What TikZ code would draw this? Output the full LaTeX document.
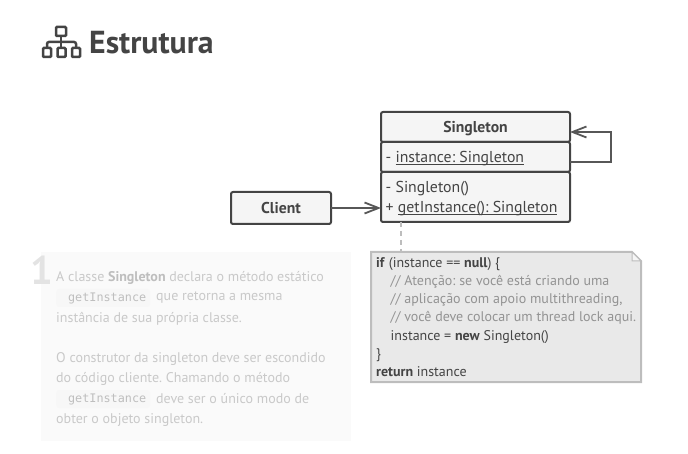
\documentclass[tikz,border=0pt]{standalone}
\usepackage{fontspec}
\setmainfont{PT Sans}
\setmonofont{DejaVu Sans Mono}
\usetikzlibrary{arrows.meta}
\frenchspacing
\newcommand\ulx[1]{\setbox0=\hbox{#1}\rlap{\rule[-2.4pt]{\wd0}{0.9pt}}\box0}
\definecolor{ink}{HTML}{444444}
\definecolor{boxfill}{HTML}{F5F5F5}
\definecolor{notefill}{HTML}{E9E9E9}
\definecolor{noteline}{HTML}{BDBDBD}
\definecolor{fade}{HTML}{C9C9C9}
\definecolor{fadedark}{HTML}{BEBEBE}
\definecolor{fadechip}{HTML}{F7F7F7}
\tikzset{
  x=1pt,y=-1pt,
  classbox/.style={draw=ink,fill=boxfill,line width=2pt,rounded corners=2pt,inner sep=0pt,outer sep=0pt,anchor=north west,text=ink},
  titlebox/.style={classbox,font=\fontsize{15.7}{18}\selectfont\bfseries,align=center,text height=12.5pt,text depth=1pt},
  membertxt/.style={anchor=base west,inner sep=0pt,text=ink,font=\fontsize{15.8}{18}\selectfont},
  conn/.style={draw=ink!90!white,line width=2pt},
  opentip/.style={-{Straight Barb[length=14pt,width=11pt,line width=1.8pt]}},
  notetxt/.style={anchor=base west,inner sep=0pt,text=ink,font=\fontsize{14}{16}\selectfont},
  commenttxt/.style={notetxt,text=gray!85},
  fadetxt/.style={anchor=west,inner sep=0pt,text=fade,font=\fontsize{14}{16}\selectfont},
  codechip/.style={anchor=west,inner sep=0pt,fill=fadechip,rounded corners=3pt,text=fadedark,font=\ttfamily\fontsize{11.8}{14}\selectfont,minimum height=18pt,minimum width=94pt},
  icon/.style={draw=ink,line width=2.5pt,rounded corners=1pt},
}
\begin{document}
\begin{tikzpicture}
\useasboundingbox (0,0) rectangle (688,454);
% title icon
\foreach \nx/\ny/\nw in {56/27/10, 43/48/8, 57.5/48/8, 72/48/8}{
  \draw[icon] (\nx,\ny) rectangle ++(\nw,9);
}
\draw[icon,rounded corners=2pt] (47,48) -- (47,42) -- (76,42) -- (76,48);
\draw[icon] (61,36) -- (61,48);
\node[anchor=west,inner sep=0pt,text=ink,font=\fontsize{31.8}{34}\selectfont\bfseries] (title) at (89,43) {Estrutura};
% panel
\fill[fill=black!2] (41,252) rectangle (351,441);
\node[anchor=center,inner sep=0pt,text=black!11,font=\fontsize{40}{40}\selectfont\bfseries] (num) at (42,270) {1};
\node[fadetxt] (p1) at (56,277.5) {A classe \textcolor{fadedark}{\bfseries Singleton} declara o método estático};
\node[codechip] (c1) at (56,298) {\hspace{8pt}getInstance\hfill};
\node[fadetxt] (p2) at (156,298) {que retorna a mesma};
\node[fadetxt] (p3) at (56,318.5) {instância de sua própria classe.};
\node[fadetxt] (p4) at (56,358.5) {O construtor da singleton deve ser escondido};
\node[fadetxt] (p5) at (56,378.5) {do código cliente. Chamando o método};
\node[codechip] (c2) at (56,399) {\hspace{8pt}getInstance\hfill};
\node[fadetxt] (p6) at (156,399) {deve ser o único modo de};
\node[fadetxt] (p7) at (56,420) {obter o objeto singleton.};
% classes
\node[titlebox,minimum width=189pt,minimum height=30pt] (head) at (381,112) {Singleton};
\node[classbox,minimum width=189pt,minimum height=30pt] (attrs) at (381,142) {};
\node[classbox,minimum width=189pt,minimum height=50pt] (ops) at (381,172) {};
\node[membertxt] (a1) at (385.5,163) {- \ulx{instance: Singleton}};
\node[membertxt] (o1) at (385.5,193) {- Singleton()};
\node[membertxt] (o2) at (385.5,213) {+ \ulx{getInstance(): Singleton}};
\node[titlebox,minimum width=100pt,minimum height=32pt] (client) at (231,192) {Client};
% connectors
\draw[conn,opentip] (client.east) -- (ops.west |- client.east);
\coordinate (loopa) at (611,162);
\coordinate (loopb) at (611,132);
\draw[conn,opentip] (attrs.east |- loopa) -- (loopa) -- (loopb) -- (head.east |- loopb);
% note
\coordinate (noteanchor) at (401,252);
\draw[draw=noteline,line width=2pt,dash pattern=on 5pt off 4pt] (401,222) -- (noteanchor);
\draw[draw=noteline,fill=notefill,line width=2pt] (371,252) -- (632,252) -- (641,261) -- (641,382) -- (371,382) -- cycle;
\draw[draw=noteline,fill=white!60!notefill,line width=1pt] (632,252) -- (632,261) -- (641,261) -- cycle;
\node[notetxt] (n1) at (376,268) {\textbf{if} (instance == \textbf{null}) \{};
\node[commenttxt] (n2) at (390.5,286) {// Atenção: se você está criando uma};
\node[commenttxt] (n3) at (390.5,304) {// aplicação com apoio multithreading,};
\node[commenttxt] (n4) at (390.5,322) {// você deve colocar um thread lock aqui.};
\node[notetxt] (n5) at (390.5,340) {instance = \textbf{new} Singleton()};
\node[notetxt] (n6) at (376,358) {\}};
\node[notetxt] (n7) at (376,376) {\textbf{return} instance};
\end{tikzpicture}
\end{document}
